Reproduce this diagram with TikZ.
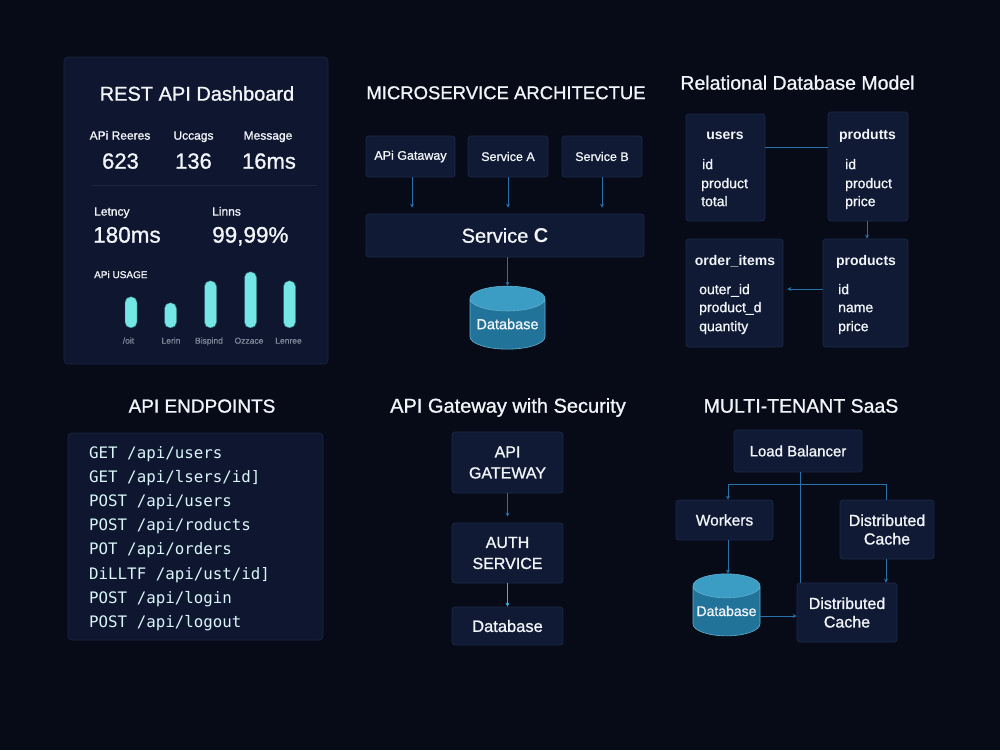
\documentclass[tikz,border=0pt]{standalone}
\usepackage{fontspec}
\setmainfont{Liberation Sans}[UprightFeatures={FakeBold=1.0}]
\newfontfamily\monof{DejaVu Sans Mono}
\usetikzlibrary{shapes.geometric,arrows.meta}
\definecolor{bg}{HTML}{070B18}
\definecolor{panel}{HTML}{0E1630}
\definecolor{pborder}{HTML}{1C2742}
\definecolor{boxfill}{HTML}{101A34}
\definecolor{boxborder}{HTML}{1E2A48}
\definecolor{link}{HTML}{2872AC}
\definecolor{linkb}{HTML}{3AB4E4}
\definecolor{barc}{HTML}{74E6E6}
\definecolor{txt}{HTML}{F2F5FA}
\definecolor{muted}{HTML}{7D8798}
\definecolor{cylbody}{HTML}{22739A}
\definecolor{cyltop}{HTML}{3B9CC4}
\tikzset{
  t/.style={inner sep=0pt, text=txt, anchor=mid},
  tl/.style={inner sep=0pt, text=txt, anchor=mid west},
  box/.style={draw=boxborder, fill=boxfill, rounded corners=3pt, line width=0.7pt, inner sep=0pt, text=txt},
  panelbox/.style={draw=pborder, fill=panel, rounded corners=4pt, line width=0.7pt, inner sep=0pt},
  conn/.style={draw=link, line width=0.9pt, -{Stealth[length=4pt,width=4pt]}},
  plainlink/.style={draw=link, line width=0.9pt},
  barbox/.style={fill=barc, draw=bg!60!barc, line width=0.4pt, rounded corners=5.5pt, minimum width=12pt, inner sep=0pt, anchor=south},
  barlbl/.style={inner sep=0pt, text=muted, anchor=mid, font=\fontsize{8.5}{10}\selectfont},
  cyl/.style={shape=cylinder, shape border rotate=90, aspect=0.4, cylinder uses custom fill,
    cylinder body fill=cylbody, cylinder end fill=cyltop, draw=cyltop!80!white, line width=0.6pt,
    inner sep=0pt, text=txt},
  ttl/.style={inner sep=0pt, text=txt, anchor=mid, font=\fontsize{19.5}{23}\selectfont},
  fld/.style={inner sep=0pt, text=txt, anchor=mid west, font=\fontsize{14}{16}\selectfont},
  fldt/.style={inner sep=0pt, text=txt, anchor=mid, font=\fontsize{14}{16}\selectfont\bfseries},
  ep/.style={inner sep=0pt, text=txt!90!cyan, anchor=mid west, font=\monof\fontsize{15.8}{18}\selectfont},
}
\begin{document}
\begin{tikzpicture}[x=1pt,y=-1pt]
\fill[bg] (0,0) rectangle (1000,750);
\useasboundingbox (0,0) rectangle (1000,750);

% ---------------- REST API Dashboard ----------------
\node[panelbox, minimum width=264pt, minimum height=307pt] (dash) at (196,210.5) {};
\node[t, font=\fontsize{20}{24}\selectfont] (dtitle) at (197,98) {REST API Dashboard};
\node[t, font=\fontsize{12}{14}\selectfont] (l1) at (120,137) {APi Reeres};
\node[t, font=\fontsize{12}{14}\selectfont] (l2) at (193.5,137) {Uccags};
\node[t, font=\fontsize{12}{14}\selectfont] (l3) at (268,137) {Message};
\node[t, font=\fontsize{22}{26}\selectfont] (v1) at (120.5,166) {623};
\node[t, font=\fontsize{22}{26}\selectfont] (v2) at (193.5,166) {136};
\node[t, font=\fontsize{22}{26}\selectfont] (v3) at (269,166) {16ms};
\draw[pborder, line width=0.7pt] (92,185) -- (317,185);
\node[tl, font=\fontsize{12}{14}\selectfont] (l4) at (94,213) {Letncy};
\node[tl, font=\fontsize{12}{14}\selectfont] (l5) at (212,213) {Linns};
\node[tl, font=\fontsize{22.5}{26}\selectfont] (v4) at (93,240) {180ms};
\node[tl, font=\fontsize{22.5}{26}\selectfont] (v5) at (212,240) {99,99\%};
\node[tl, font=\fontsize{10}{12}\selectfont] (usage) at (94,275.5) {APi USAGE};
\node[barbox, minimum height=31pt] (b1) at (131,328) {};
\node[barbox, minimum height=25pt] (b2) at (170.5,328) {};
\node[barbox, minimum height=47pt] (b3) at (210.5,328) {};
\node[barbox, minimum height=56pt] (b4) at (250.5,328) {};
\node[barbox, minimum height=47pt] (b5) at (289.5,328) {};
\node[barlbl] (bl1) at (128.5,341) {/oit};
\node[barlbl] (bl2) at (171,341) {Lerin};
\node[barlbl] (bl3) at (209,341) {Bispind};
\node[barlbl] (bl4) at (249,341) {Ozzace};
\node[barlbl] (bl5) at (288.5,341) {Lenree};

% ---------------- Microservice Architecture ----------------
\node[t, font=\fontsize{18.5}{22}\selectfont] (mtitle) at (506,96.5) {MICROSERVICE ARCHITECTUE};
\node[box, minimum width=89pt, minimum height=41pt, font=\fontsize{12.5}{15}\selectfont] (gw) at (410.5,156.5) {APi Gataway};
\node[box, minimum width=80pt, minimum height=41pt, font=\fontsize{12.5}{15}\selectfont] (sa) at (508,156.5) {Service A};
\node[box, minimum width=80pt, minimum height=41pt, font=\fontsize{12.5}{15}\selectfont] (sb) at (602,156.5) {Service B};
\node[box, minimum width=278pt, minimum height=43pt, font=\fontsize{20}{24}\selectfont] (sc) at (505,235.5) {Service \textbf{C}};
\node[cyl, minimum width=75pt, minimum height=63pt, font=\fontsize{14.5}{17}\selectfont] (db1) at (507.5,324) {Database};
\coordinate (mx1) at (412,0);
\draw[conn, shorten >=6pt] (gw.south -| mx1) -- (sc.north -| mx1);
\draw[conn, shorten >=6pt] (sa.south) -- (sa.south |- sc.north);
\draw[conn, shorten >=6pt] (sb.south) -- (sb.south |- sc.north);
\draw[conn] (db1.north |- sc.south) -- (db1.north);

% ---------------- Relational Database Model ----------------
\node[ttl] (rtitle) at (797.5,87) {Relational Database Model};
\node[box, minimum width=79pt, minimum height=107pt] (users) at (725.5,167.5) {};
\node[box, minimum width=80pt, minimum height=109pt] (produtts) at (868,166.5) {};
\node[box, minimum width=97pt, minimum height=108pt] (orderitems) at (734.5,293) {};
\node[box, minimum width=85pt, minimum height=108pt] (products) at (865.5,293) {};
\node[fldt] (ut) at (725,136.5) {users};
\node[fld] (u1) at (702,166.5) {id};
\node[fld] (u2) at (701,185.5) {product};
\node[fld] (u3) at (701,203.5) {total};
\node[fldt] (pt) at (867.5,136.5) {produtts};
\node[fld] (p1) at (845,166.5) {id};
\node[fld] (p2) at (845,185.5) {product};
\node[fld] (p3) at (845,203.5) {price};
\node[fldt] (ot) at (735,262.5) {order\_items};
\node[fld] (o1) at (699,291.5) {outer\_id};
\node[fld] (o2) at (699,309.5) {product\_d};
\node[fld] (o3) at (699,328.5) {quantity};
\node[fldt] (qt) at (866,262.5) {products};
\node[fld] (q1) at (838,291.5) {id};
\node[fld] (q2) at (838,309.5) {name};
\node[fld] (q3) at (838,328.5) {price};
\coordinate (ry1) at (0,147);
\coordinate (ry2) at (0,289);
\coordinate (rx1) at (867,0);
\draw[plainlink] (users.east |- ry1) -- (produtts.west |- ry1);
\draw[conn] (produtts.south -| rx1) -- (products.north -| rx1);
\draw[conn, shorten >=4pt] (products.west |- ry2) -- (orderitems.east |- ry2);

% ---------------- API Endpoints ----------------
\node[t, font=\fontsize{19}{23}\selectfont] (etitle) at (202,410) {API ENDPOINTS};
\node[panelbox, minimum width=255pt, minimum height=207pt] (eps) at (195.5,536.5) {};
\node[ep] (e1) at (89,456) {GET /api/users};
\node[ep] (e2) at (89,480) {GET /api/lsers/id]};
\node[ep] (e3) at (89,504) {POST /api/users};
\node[ep] (e4) at (89,528) {POST /api/roducts};
\node[ep] (e5) at (89,552) {POT /api/orders};
\node[ep] (e6) at (89,577) {DiLLTF /api/ust/id]};
\node[ep] (e7) at (89,601) {POST /api/login};
\node[ep] (e8) at (89,625) {POST /api/logout};

% ---------------- API Gateway with Security ----------------
\node[t, font=\fontsize{20}{24}\selectfont] (stitle) at (508,410) {API Gateway with Security};
\node[box, minimum width=111pt, minimum height=61pt, align=center, font=\fontsize{16}{21}\selectfont] (ag) at (507.5,462.5) {API\\GATEWAY};
\node[box, minimum width=111pt, minimum height=60pt, align=center, font=\fontsize{16}{21}\selectfont] (auth) at (507.5,553) {AUTH\\SERVICE};
\node[box, minimum width=111pt, minimum height=38pt, font=\fontsize{16.5}{20}\selectfont] (dbs) at (507.5,626) {Database};
\draw[conn, shorten >=6pt] (ag.south) -- (auth.north);
\draw[conn, draw=linkb] (auth.south) -- (dbs.north);

% ---------------- Multi-tenant SaaS ----------------
\node[ttl] (ttitle) at (801,410) {MULTI-TENANT SaaS};
\node[box, minimum width=128pt, minimum height=42pt, font=\fontsize{15}{18}\selectfont] (lb) at (798,451) {Load Balancer};
\node[box, minimum width=97pt, minimum height=40pt, font=\fontsize{15.5}{18}\selectfont] (wk) at (724.5,520) {Workers};
\node[box, minimum width=94pt, minimum height=59pt, align=center, font=\fontsize{16}{18.5}\selectfont] (dc1) at (887,529.5) {Distributed\\Cache};
\node[box, minimum width=100pt, minimum height=59pt, align=center, font=\fontsize{16}{18.5}\selectfont] (dc2) at (847,612.5) {Distributed\\Cache};
\node[cyl, minimum width=67pt, minimum height=62pt, font=\fontsize{14}{16}\selectfont] (db2) at (726.5,611) {Database};
\coordinate (j1) at (728,484);
\coordinate (j2) at (886,484);
\coordinate (jv) at (800,0);
\coordinate (jy) at (0,616);
\draw[plainlink] (lb.south -| jv) -- (dc2.north -| jv);
\draw[plainlink] (j1) -- (j2);
\draw[conn] (j1) -- (j1 |- wk.north);
\draw[plainlink] (j2) -- (j2 |- dc1.north);
\draw[conn] (wk.south -| j1) -- (j1 |- db2.north);
\draw[conn] (dc1.south -| j2) -- (j2 |- dc2.north);
\draw[conn] (db2.east |- jy) -- (dc2.west |- jy);
\end{tikzpicture}
\end{document}
